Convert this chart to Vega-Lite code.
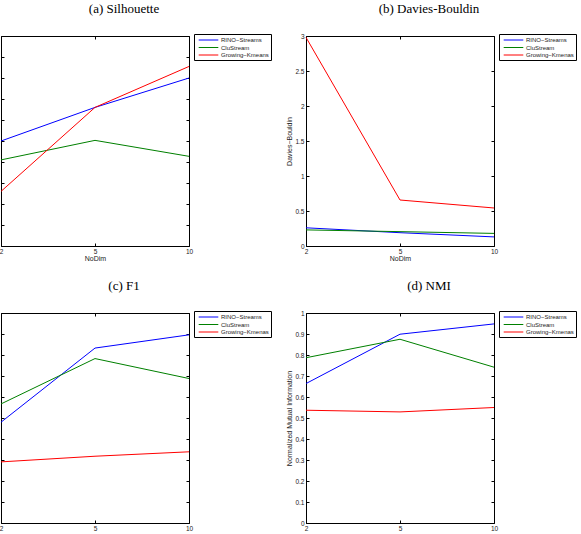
{
  "$schema": "https://vega.github.io/schema/vega-lite/v6.json",
  "padding": {"left": -3, "top": 2, "right": 0, "bottom": 0},
  "background": "white",
  "datasets": {
    "scores": [
      {"metric": "Silhouette", "dim": 2, "method": "RINO−Streams", "value": 0.50},
      {"metric": "Silhouette", "dim": 5, "method": "RINO−Streams", "value": 0.66},
      {"metric": "Silhouette", "dim": 10, "method": "RINO−Streams", "value": 0.80},
      {"metric": "Silhouette", "dim": 2, "method": "CluStream", "value": 0.41},
      {"metric": "Silhouette", "dim": 5, "method": "CluStream", "value": 0.503},
      {"metric": "Silhouette", "dim": 10, "method": "CluStream", "value": 0.427},
      {"metric": "Silhouette", "dim": 2, "method": "Growing−Kmeans", "value": 0.26},
      {"metric": "Silhouette", "dim": 5, "method": "Growing−Kmeans", "value": 0.66},
      {"metric": "Silhouette", "dim": 10, "method": "Growing−Kmeans", "value": 0.855},
      {"metric": "DB", "dim": 2, "method": "RINO−Streams", "value": 0.26},
      {"metric": "DB", "dim": 5, "method": "RINO−Streams", "value": 0.19},
      {"metric": "DB", "dim": 10, "method": "RINO−Streams", "value": 0.13},
      {"metric": "DB", "dim": 2, "method": "CluStream", "value": 0.23},
      {"metric": "DB", "dim": 5, "method": "CluStream", "value": 0.205},
      {"metric": "DB", "dim": 10, "method": "CluStream", "value": 0.18},
      {"metric": "DB", "dim": 2, "method": "Growing−Kmenas", "value": 2.98},
      {"metric": "DB", "dim": 5, "method": "Growing−Kmenas", "value": 0.657},
      {"metric": "DB", "dim": 10, "method": "Growing−Kmenas", "value": 0.543},
      {"metric": "F1", "dim": 2, "method": "RINO−Streams", "value": 0.48},
      {"metric": "F1", "dim": 5, "method": "RINO−Streams", "value": 0.833},
      {"metric": "F1", "dim": 10, "method": "RINO−Streams", "value": 0.896},
      {"metric": "F1", "dim": 2, "method": "CluStream", "value": 0.567},
      {"metric": "F1", "dim": 5, "method": "CluStream", "value": 0.783},
      {"metric": "F1", "dim": 10, "method": "CluStream", "value": 0.688},
      {"metric": "F1", "dim": 2, "method": "Growing−Kmenas", "value": 0.291},
      {"metric": "F1", "dim": 5, "method": "Growing−Kmenas", "value": 0.318},
      {"metric": "F1", "dim": 10, "method": "Growing−Kmenas", "value": 0.339},
      {"metric": "NMI", "dim": 2, "method": "RINO−Streams", "value": 0.664},
      {"metric": "NMI", "dim": 5, "method": "RINO−Streams", "value": 0.899},
      {"metric": "NMI", "dim": 10, "method": "RINO−Streams", "value": 0.948},
      {"metric": "NMI", "dim": 2, "method": "CluStream", "value": 0.787},
      {"metric": "NMI", "dim": 5, "method": "CluStream", "value": 0.875},
      {"metric": "NMI", "dim": 10, "method": "CluStream", "value": 0.742},
      {"metric": "NMI", "dim": 2, "method": "Growing−Kmenas", "value": 0.537},
      {"metric": "NMI", "dim": 5, "method": "Growing−Kmenas", "value": 0.529},
      {"metric": "NMI", "dim": 10, "method": "Growing−Kmenas", "value": 0.55}
    ]
  },
  "data": {"name": "scores"},
  "spacing": 17,
  "vconcat": [
    {
      "spacing": 13,
      "resolve": {"scale": {"color": "independent", "y": "independent"}, "legend": {"color": "independent"}},
      "hconcat": [
        {
          "width": 188, "height": 210,
          "title": {"text": "(a) Silhouette", "offset": 18},
          "transform": [{"filter": "datum.metric === 'Silhouette'"}],
          "resolve": {"scale": {"x": "independent", "y": "independent"}},
          "layer": [
            {
              "mark": {"type": "line", "strokeWidth": 1},
              "encoding": {
                "x": {"field": "dim", "type": "ordinal", "sort": [2, 5, 10], "scale": {"type": "point", "padding": 0}, "axis": {"title": "NoDim"}},
                "y": {"field": "value", "type": "quantitative", "scale": {"domain": [0, 1]}, "axis": {"title": null, "labels": false, "values": [0, 0.1, 0.2, 0.3, 0.4, 0.5, 0.6, 0.7, 0.8, 0.9, 1]}},
                "color": {"field": "method", "type": "nominal", "scale": {"domain": ["RINO−Streams", "CluStream", "Growing−Kmeans"], "range": ["#0000ff", "#008000", "#ff0000"]}}
              }
            },
            {
              "mark": {"type": "point", "opacity": 0},
              "encoding": {
                "x": {"field": "dim", "type": "ordinal", "sort": [2, 5, 10], "scale": {"type": "point", "padding": 0}, "axis": {"title": null, "labels": false}},
                "y": {"field": "value", "type": "quantitative", "scale": {"domain": [0, 1]}, "axis": {"title": null, "labels": false, "values": [0, 0.1, 0.2, 0.3, 0.4, 0.5, 0.6, 0.7, 0.8, 0.9, 1]}}
              }
            }
          ]
        },
        {
          "width": 188, "height": 210,
          "title": {"text": "(b) Davies-Bouldin", "offset": 17},
          "transform": [{"filter": "datum.metric === 'DB'"}],
          "resolve": {"scale": {"x": "independent", "y": "independent"}},
          "layer": [
            {
              "mark": {"type": "line", "strokeWidth": 1},
              "encoding": {
                "x": {"field": "dim", "type": "ordinal", "sort": [2, 5, 10], "scale": {"type": "point", "padding": 0}, "axis": {"title": "NoDim"}},
                "y": {"field": "value", "type": "quantitative", "scale": {"domain": [0, 3]}, "axis": {"title": "Davies−Bouldin", "format": "~g", "values": [0, 0.5, 1, 1.5, 2, 2.5, 3]}},
                "color": {"field": "method", "type": "nominal", "scale": {"domain": ["RINO−Streams", "CluStream", "Growing−Kmenas"], "range": ["#0000ff", "#008000", "#ff0000"]}}
              }
            },
            {
              "mark": {"type": "point", "opacity": 0},
              "encoding": {
                "x": {"field": "dim", "type": "ordinal", "sort": [2, 5, 10], "scale": {"type": "point", "padding": 0}, "axis": {"title": null, "labels": false}},
                "y": {"field": "value", "type": "quantitative", "scale": {"domain": [0, 3]}, "axis": {"title": null, "labels": false, "values": [0, 0.5, 1, 1.5, 2, 2.5, 3]}}
              }
            }
          ]
        }
      ]
    },
    {
      "spacing": 13,
      "resolve": {"scale": {"color": "independent", "y": "independent"}, "legend": {"color": "independent"}},
      "hconcat": [
        {
          "width": 188, "height": 210,
          "title": {"text": "(c) F1", "offset": 18},
          "transform": [{"filter": "datum.metric === 'F1'"}],
          "resolve": {"scale": {"x": "independent", "y": "independent"}},
          "layer": [
            {
              "mark": {"type": "line", "strokeWidth": 1},
              "encoding": {
                "x": {"field": "dim", "type": "ordinal", "sort": [2, 5, 10], "scale": {"type": "point", "padding": 0}, "axis": {"title": null}},
                "y": {"field": "value", "type": "quantitative", "scale": {"domain": [0, 1]}, "axis": {"title": null, "labels": false, "values": [0, 0.1, 0.2, 0.3, 0.4, 0.5, 0.6, 0.7, 0.8, 0.9, 1]}},
                "color": {"field": "method", "type": "nominal", "scale": {"domain": ["RINO−Streams", "CluStream", "Growing−Kmenas"], "range": ["#0000ff", "#008000", "#ff0000"]}}
              }
            },
            {
              "mark": {"type": "point", "opacity": 0},
              "encoding": {
                "x": {"field": "dim", "type": "ordinal", "sort": [2, 5, 10], "scale": {"type": "point", "padding": 0}, "axis": {"title": null, "labels": false}},
                "y": {"field": "value", "type": "quantitative", "scale": {"domain": [0, 1]}, "axis": {"title": null, "labels": false, "values": [0, 0.1, 0.2, 0.3, 0.4, 0.5, 0.6, 0.7, 0.8, 0.9, 1]}}
              }
            }
          ]
        },
        {
          "width": 188, "height": 210,
          "title": {"text": "(d) NMI", "offset": 17},
          "transform": [{"filter": "datum.metric === 'NMI'"}],
          "resolve": {"scale": {"x": "independent", "y": "independent"}},
          "layer": [
            {
              "mark": {"type": "line", "strokeWidth": 1},
              "encoding": {
                "x": {"field": "dim", "type": "ordinal", "sort": [2, 5, 10], "scale": {"type": "point", "padding": 0}, "axis": {"title": null}},
                "y": {"field": "value", "type": "quantitative", "scale": {"domain": [0, 1]}, "axis": {"title": "Normalized Mutual Information", "format": "~g", "values": [0, 0.1, 0.2, 0.3, 0.4, 0.5, 0.6, 0.7, 0.8, 0.9, 1]}},
                "color": {"field": "method", "type": "nominal", "scale": {"domain": ["RINO−Streams", "CluStream", "Growing−Kmenas"], "range": ["#0000ff", "#008000", "#ff0000"]}}
              }
            },
            {
              "mark": {"type": "point", "opacity": 0},
              "encoding": {
                "x": {"field": "dim", "type": "ordinal", "sort": [2, 5, 10], "scale": {"type": "point", "padding": 0}, "axis": {"title": null, "labels": false}},
                "y": {"field": "value", "type": "quantitative", "scale": {"domain": [0, 1]}, "axis": {"title": null, "labels": false, "values": [0, 0.1, 0.2, 0.3, 0.4, 0.5, 0.6, 0.7, 0.8, 0.9, 1]}}
              }
            }
          ]
        }
      ]
    }
  ],
  "resolve": {"scale": {"color": "independent", "y": "independent"}, "legend": {"color": "independent"}},
  "config": {
    "view": {"stroke": "black", "strokeWidth": 1},
    "title": {"font": "Liberation Serif", "fontSize": 13, "fontWeight": "normal", "color": "black", "dx": 29, "anchor": "middle", "frame": "group"},
    "axis": {
      "domain": false, "grid": false,
      "tickSize": -3, "tickColor": "black", "tickWidth": 1,
      "labelFont": "Liberation Sans", "labelFontSize": 6.5, "labelColor": "#222", "labelPadding": 5,
      "labelAngle": 0,
      "titleFont": "Liberation Sans", "titleFontSize": 7, "titleFontWeight": "normal", "titleColor": "#222"
    },
    "axisX": {"titlePadding": 0},
    "axisY": {"titlePadding": 2},
    "legend": {
      "orient": "none", "legendX": 193, "legendY": -2, "title": null,
      "strokeColor": "black", "fillColor": "white", "padding": 2, "cornerRadius": 0,
      "symbolType": "M-2.8,0H2.8", "symbolStrokeWidth": 1, "symbolSize": 49, "symbolOffset": 8.5,
      "labelFont": "Liberation Sans", "labelFontSize": 6, "labelColor": "#222",
      "rowPadding": 0.5, "labelOffset": 8.5
    }
  }
}
